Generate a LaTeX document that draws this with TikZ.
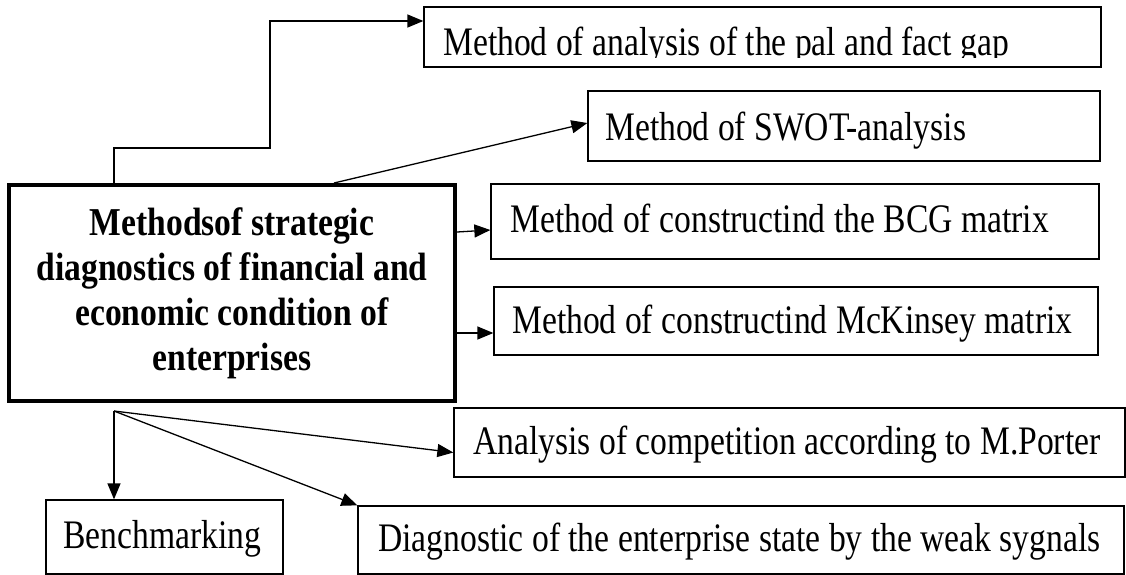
\documentclass[tikz,border=0pt]{standalone}
\usepackage{fontspec}
\setmainfont{Liberation Serif}[FakeStretch=0.83]
\newfontfamily\headfont{Liberation Serif}[FakeStretch=0.85]
\usetikzlibrary{arrows.meta}
\begin{document}
\begin{tikzpicture}[x=1pt,y=-1pt,
  boxframe/.style={draw=black, line width=1.3pt, inner sep=0pt, rectangle},
  mainframe/.style={draw=black, line width=4pt, inner sep=0pt, rectangle},
  itemtext/.style={inner sep=0pt, anchor=base west, font=\fontsize{40.5}{45}\selectfont},
  headtext/.style={inner sep=0pt, align=center, font=\headfont\bfseries\fontsize{39.5}{45}\selectfont},
  connector/.style={draw=black, line width=1.3pt, -{Triangle[length=16pt,width=13pt]}}
]
\useasboundingbox (0,0) rectangle (1126,574);

% central block
\node[mainframe, minimum width=446pt, minimum height=216pt] (main) at (232,293) {};
\node[headtext] (main-t) at (232,293) {Methodsof strategic\\diagnostics of financial and\\economic condition of\\enterprises};

% method boxes
\node[boxframe, minimum width=677pt, minimum height=60pt] (plan) at (762.5,37) {};
\node[boxframe, minimum width=512pt, minimum height=70pt] (swot) at (844,126) {};
\node[boxframe, minimum width=608pt, minimum height=75pt] (bcg) at (795,221.5) {};
\node[boxframe, minimum width=604pt, minimum height=68pt] (mck) at (796,321) {};
\node[boxframe, minimum width=671pt, minimum height=69pt] (porter) at (789.5,442.5) {};
\node[boxframe, minimum width=766pt, minimum height=68pt] (weak) at (741,540) {};
\node[boxframe, minimum width=237pt, minimum height=74pt] (bench) at (164.5,537) {};

% captions
\begin{scope}
  \clip (424,7) rectangle (1101,57.5);
  \node[itemtext] (plan-t) at (443,55) {Method of analysis of the pal and fact gap};
\end{scope}
\node[itemtext] (swot-t) at (605,140) {Method of SWOT-analysis};
\node[itemtext] (bcg-t) at (510,232) {Method of constructind the BCG matrix};
\node[itemtext] (mck-t) at (512,333) {Method of constructind McKinsey matrix};
\node[itemtext] (porter-t) at (473,454) {Analysis of competition according to M.Porter};
\node[itemtext] (weak-t) at (378,551) {Diagnostic of the enterprise state by the weak sygnals};
\node[itemtext] (bench-t) at (63,548) {Benchmarking};

% connectors
\coordinate (planturn) at (270,148);
\draw[connector] ([xshift=107pt]main.north west) |- (planturn) |- ([yshift=16pt]plan.west);
\draw[connector] ([xshift=327pt]main.north west) -- ([yshift=3pt]swot.west);
\draw[connector] ([yshift=61pt]main.east) -- ([yshift=-8.5pt]bcg.west);
\draw[connector] ([yshift=-40pt]main.east) -- ([yshift=-12pt]mck.west);

\coordinate (fork) at ([xshift=107pt,yshift=-8pt]main.south west);
\draw[connector] (fork) -- (fork |- bench.north);
\draw[connector] (fork) -- ([yshift=-10pt]porter.west);
\draw[connector] (fork) -- (weak.north west);
\end{tikzpicture}
\end{document}
